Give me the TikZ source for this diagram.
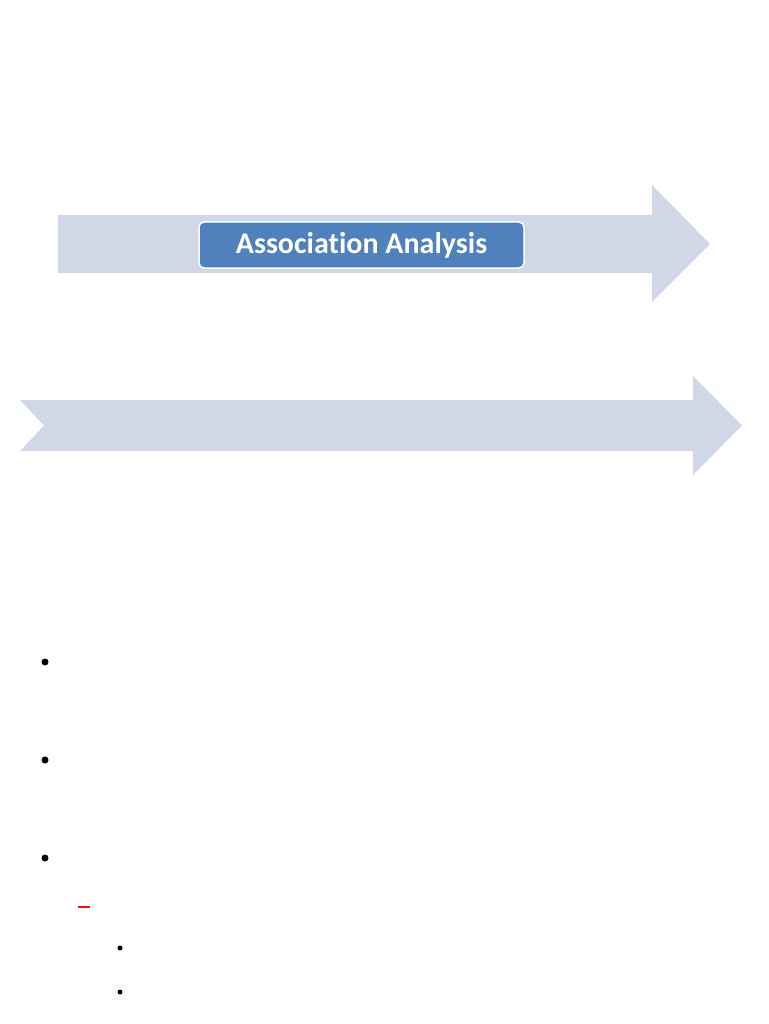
\documentclass[tikz,border=0pt]{standalone}
\usepackage{fontspec}
\setmainfont[Ligatures=NoCommon]{Carlito}
\definecolor{arrowfill}{RGB}{208,216,232}
\definecolor{boxfill}{RGB}{79,129,189}
\definecolor{dashred}{RGB}{230,20,20}
\begin{document}
\begin{tikzpicture}[x=1pt,y=-1pt,
  bigarrow/.style={fill=arrowfill,draw=none},
  labelbox/.style={fill=boxfill,draw=white,line width=1.5pt,rounded corners=5pt,text=white,font=\bfseries\fontsize{30}{34}\selectfont,minimum width=325pt,minimum height=46pt,inner sep=0pt},
  bigdot/.style={fill=black,circle,inner sep=0pt,minimum size=7pt},
  smalldot/.style={fill=black,circle,inner sep=0pt,minimum size=5pt}]
\useasboundingbox (0,0) rectangle (768,1024);
\fill[white] (0,0) rectangle (768,1024);
% arrow 1
\path[bigarrow] (58,215) -- (652,215) -- (652,185) -- (710,244) -- (652,302) -- (652,273) -- (58,273) -- cycle;
\node[labelbox] (aa) at (361.5,245) {Association Analysis};
% arrow 2
\path[bigarrow] (20,400) -- (693,400) -- (693,376) -- (742,425.5) -- (693,475) -- (693,451) -- (20,451) -- (44,425.5) -- cycle;
% bullets
\node[bigdot] (b1) at (45,662) {};
\node[bigdot] (b2) at (45,760) {};
\node[bigdot] (b3) at (45,858) {};
\draw[dashred,line width=1.6pt] (78,907) coordinate (d1) -- (90,907) coordinate (d2);
\node[smalldot] (s1) at (120,948) {};
\node[smalldot] (s2) at (120,992) {};
\end{tikzpicture}
\end{document}
